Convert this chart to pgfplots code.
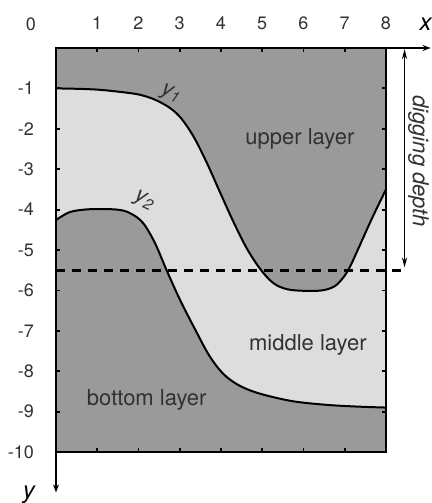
\documentclass[border=0pt]{standalone}
\usepackage{fontspec}
\setmainfont{TeX Gyre Heros}
\usepackage{pgfplots}
\pgfplotsset{compat=1.18}
\usepgfplotslibrary{fillbetween}
\usetikzlibrary{arrows.meta}
\definecolor{darkfill}{RGB}{155,154,155}
\definecolor{lightfill}{RGB}{221,221,221}
\definecolor{txt}{RGB}{50,50,50}

\begin{document}
\begin{tikzpicture}
\begin{axis}[
  at={(0pt,0pt)}, anchor=north west,
  scale only axis, width=165pt, height=202pt,
  xmin=0,xmax=8,ymin=-10,ymax=0,
  axis background/.style={fill=darkfill},
  axis line style={line width=1.2pt, black},
  axis on top,
  xtick={1,...,8}, xticklabels={1,2,3,4,5,6,7,8},
  ytick={-10,-9,...,-1}, yticklabels={-10,-9,-8,-7,-6,-5,-4,-3,-2,-1},
  xtick pos=both, ytick pos=both,
  xticklabel pos=upper, yticklabel pos=left,
  tick align=inside, major tick length=2pt,
  tick style={black, line width=0.9pt},
  ticklabel style={font=\fontsize{9}{10}\selectfont, text=txt},
  xticklabel shift=5.5pt, yticklabel shift=7.5pt,
  clip=false,
]
\addplot[name path=A, smooth, tension=0.55, line width=1pt, black] coordinates {
 (0,-1) (0.5,-1.01) (1,-1.03) (1.5,-1.08) (2,-1.15) (2.4,-1.28) (2.77,-1.49)
 (3.05,-1.76) (3.35,-2.22) (3.66,-2.85) (3.98,-3.58) (4.3,-4.3) (4.62,-4.95)
 (4.95,-5.47) (5.27,-5.82) (5.6,-5.97) (6.0,-6.01) (6.45,-6.0) (6.75,-5.9)
 (6.95,-5.7) (7.12,-5.43) (7.35,-4.92) (7.65,-4.24) (8,-3.5)
};
\addplot[name path=B, smooth, tension=0.55, line width=1pt, black] coordinates {
 (0,-4.26) (0.34,-4.06) (0.83,-3.99) (1.48,-4.0) (1.8,-4.09) (2.11,-4.33)
 (2.4,-4.83) (2.69,-5.52) (3.01,-6.24) (3.38,-6.98) (3.72,-7.62) (4.05,-8.06)
 (4.4,-8.33) (4.8,-8.51) (5.3,-8.65) (5.85,-8.76) (6.65,-8.84) (7.4,-8.88) (8,-8.9)
};
\addplot[lightfill] fill between[of=A and B];
\addplot[black, line width=1.4pt, dash pattern=on 4.5pt off 3.5pt] coordinates {(0,-5.5) (8.52,-5.5)};

\draw[-{Stealth[length=4pt,width=3pt]}, line width=0.6pt] (axis cs:8,0) -- (axis cs:9.08,0);
\draw[-{Stealth[length=4pt,width=3pt]}, line width=0.6pt] (axis cs:0,-10) -- (axis cs:0,-11.0);
\draw[{Stealth[length=5pt,width=2.6pt]}-{Stealth[length=5pt,width=2.6pt]}, line width=0.6pt] (axis cs:8.45,-0.03) -- (axis cs:8.45,-5.43);

\node[font=\fontsize{11}{12}\selectfont\itshape, rotate=-90, text=txt] at (axis cs:8.79,-2.8) {digging depth};
\node[anchor=base west, font=\fontsize{11}{12}\selectfont, text=txt] at (axis cs:4.42,-2.38) {upper layer};
\node[anchor=base west, font=\fontsize{11}{12}\selectfont, text=txt] at (axis cs:4.51,-7.48) {middle layer};
\node[anchor=base west, font=\fontsize{11}{12}\selectfont, text=txt] at (axis cs:0.58,-8.86) {bottom layer};
\node[font=\fontsize{9}{10}\selectfont, text=txt] at (axis cs:-0.61,0.59) {0};
\node[font=\fontsize{12}{13}\selectfont\itshape, text=black] at (axis cs:8.96,0.58) {x};
\node[font=\fontsize{12}{13}\selectfont\itshape, text=black] at (axis cs:-0.66,-11.06) {y};
\node[font=\fontsize{11}{12}\selectfont\itshape, rotate=-22, text=txt, inner sep=0.5pt] at (axis cs:2.79,-1.14) {y\textsubscript{1}};
\node[font=\fontsize{11}{12}\selectfont\itshape, rotate=-25, text=txt, inner sep=0.5pt] at (axis cs:2.14,-3.79) {y\textsubscript{2}};
\end{axis}
\pgfresetboundingbox
\useasboundingbox (-28pt,24pt) rectangle (188pt,-227.5pt);
\end{tikzpicture}
\end{document}
